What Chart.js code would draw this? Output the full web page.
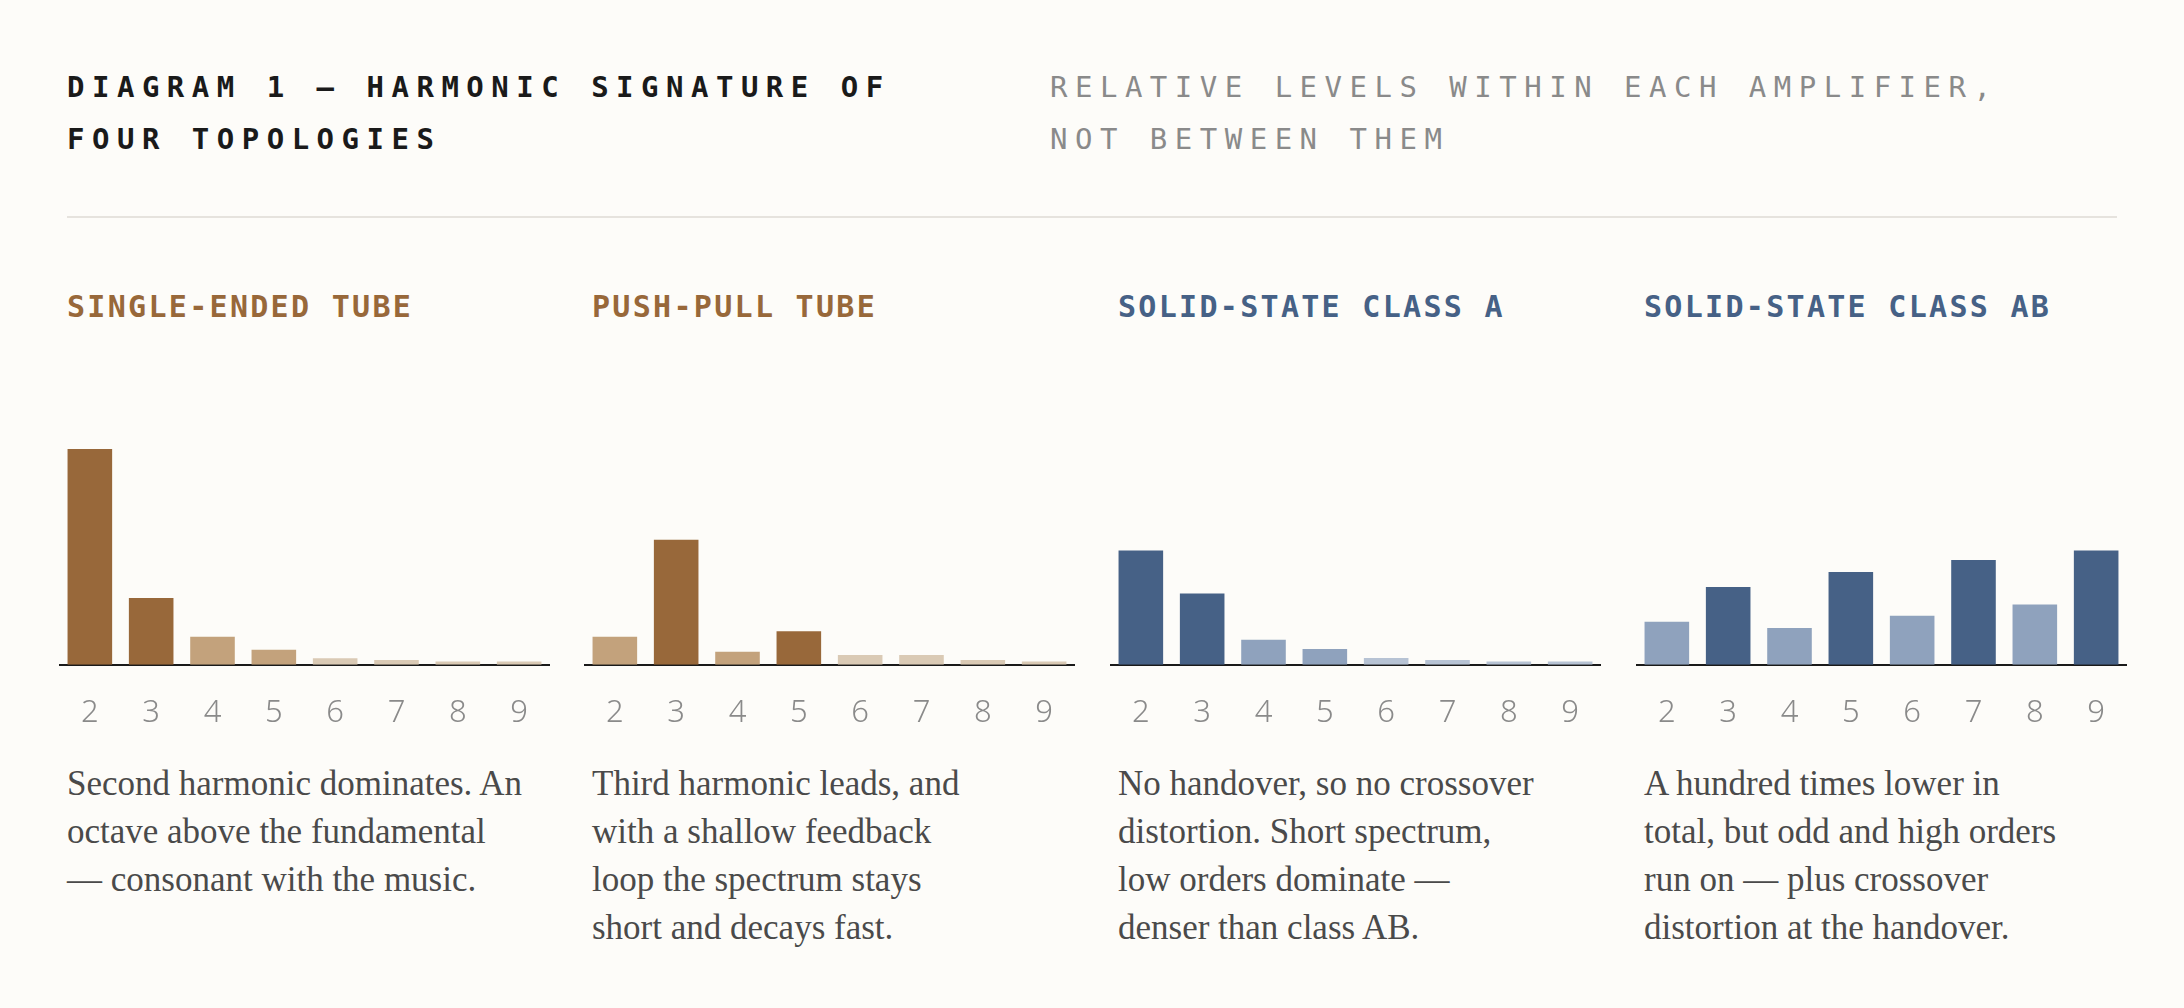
<!DOCTYPE html>
<html><head><meta charset="utf-8">
<script src="https://cdn.jsdelivr.net/npm/chart.js@4"></script>
<style>
html,body{margin:0;background:#fdfcf9;width:2184px;height:1008px;overflow:hidden}
.t{position:absolute;font-family:"DejaVu Sans Mono",monospace;font-size:29px;letter-spacing:7.5px;line-height:52px;white-space:nowrap}
#title{left:67px;top:61px;font-weight:bold;color:#1a1a1a}
#sub{left:1050px;top:61px;color:#8a8a8a}
#rule{position:absolute;left:67px;top:216px;width:2050px;height:2px;background:#e6e3de}
.col{position:absolute;top:282px;width:474px}
.col h2{margin:0;font-family:"DejaVu Sans Mono",monospace;font-size:30px;font-weight:bold;letter-spacing:2.3px;line-height:50px;white-space:nowrap}
.cv{position:absolute;top:167px;left:-8px;width:491px;height:305px}
.col p{position:absolute;top:478px;margin:0;font-family:"Liberation Serif",serif;font-size:35px;line-height:48px;color:#4a4a4a;white-space:nowrap}
</style></head><body>
<div id="title" class="t">DIAGRAM 1 — HARMONIC SIGNATURE OF<br>FOUR TOPOLOGIES</div>
<div id="sub" class="t">RELATIVE LEVELS WITHIN EACH AMPLIFIER,<br>NOT BETWEEN THEM</div>
<div id="rule"></div>
<div id="cols"></div>
<script>
const harmonics=["2","3","4","5","6","7","8","9"];
const titles=["SINGLE-ENDED TUBE","PUSH-PULL TUBE","SOLID-STATE CLASS A","SOLID-STATE CLASS AB"];
const singleEnded=[100,31,13,7,3,2.2,1.5,1.5];
const pushPull=[13,58,6,15.6,4.5,4.5,2.2,1.5];
const classA=[53,33,11.6,7.3,3.1,2.2,1.5,1.5];
const classAB=[20,36,17,43,22.7,48.6,28,53];
const seriesList=[singleEnded,pushPull,classA,classAB];
// shade level per bar: 0 dark,1 mid,2 light
const shades=[[0,0,1,1,2,2,2,2],[1,0,1,0,2,2,2,2],[0,0,1,1,2,2,2,2],[1,0,1,0,1,0,1,0]];
const notes=["Second harmonic dominates. An<br>octave above the fundamental<br>— consonant with the music.",
"Third harmonic leads, and<br>with a shallow feedback<br>loop the spectrum stays<br>short and decays fast.",
"No handover, so no crossover<br>distortion. Short spectrum,<br>low orders dominate —<br>denser than class AB.",
"A hundred times lower in<br>total, but odd and high orders<br>run on — plus crossover<br>distortion at the handover."];
const brown=["#98683a","#c3a27c","#dacab5"],blue=["#466186","#8fa2bd","#b7c3d4"];
const lefts=[67,592,1118,1644];
const cols=document.getElementById('cols');
seriesList.forEach((data,i)=>{
  const pal=i<2?brown:blue;
  const d=document.createElement('div');d.className='col';d.style.left=lefts[i]+'px';
  d.innerHTML=`<h2 style="color:${pal[0]}">${titles[i]}</h2><div class="cv"><canvas></canvas></div><p>${notes[i]}</p>`;
  cols.appendChild(d);
  new Chart(d.querySelector('canvas'),{type:'bar',
    data:{labels:harmonics,datasets:[{data,backgroundColor:shades[i].map(s=>pal[s]),categoryPercentage:1,barPercentage:0.727}]},
    options:{responsive:true,maintainAspectRatio:false,animation:false,
      layout:{padding:0},
      plugins:{legend:{display:false},tooltip:{enabled:false}},
      scales:{y:{display:false,min:0,max:100},
        x:{grid:{display:false},border:{display:true,color:'#1a1a1a',width:2},
          ticks:{color:'#8a8a8a',padding:22,font:{family:'Noto Sans',size:31,weight:300}}}}}});
});
</script></body></html>
